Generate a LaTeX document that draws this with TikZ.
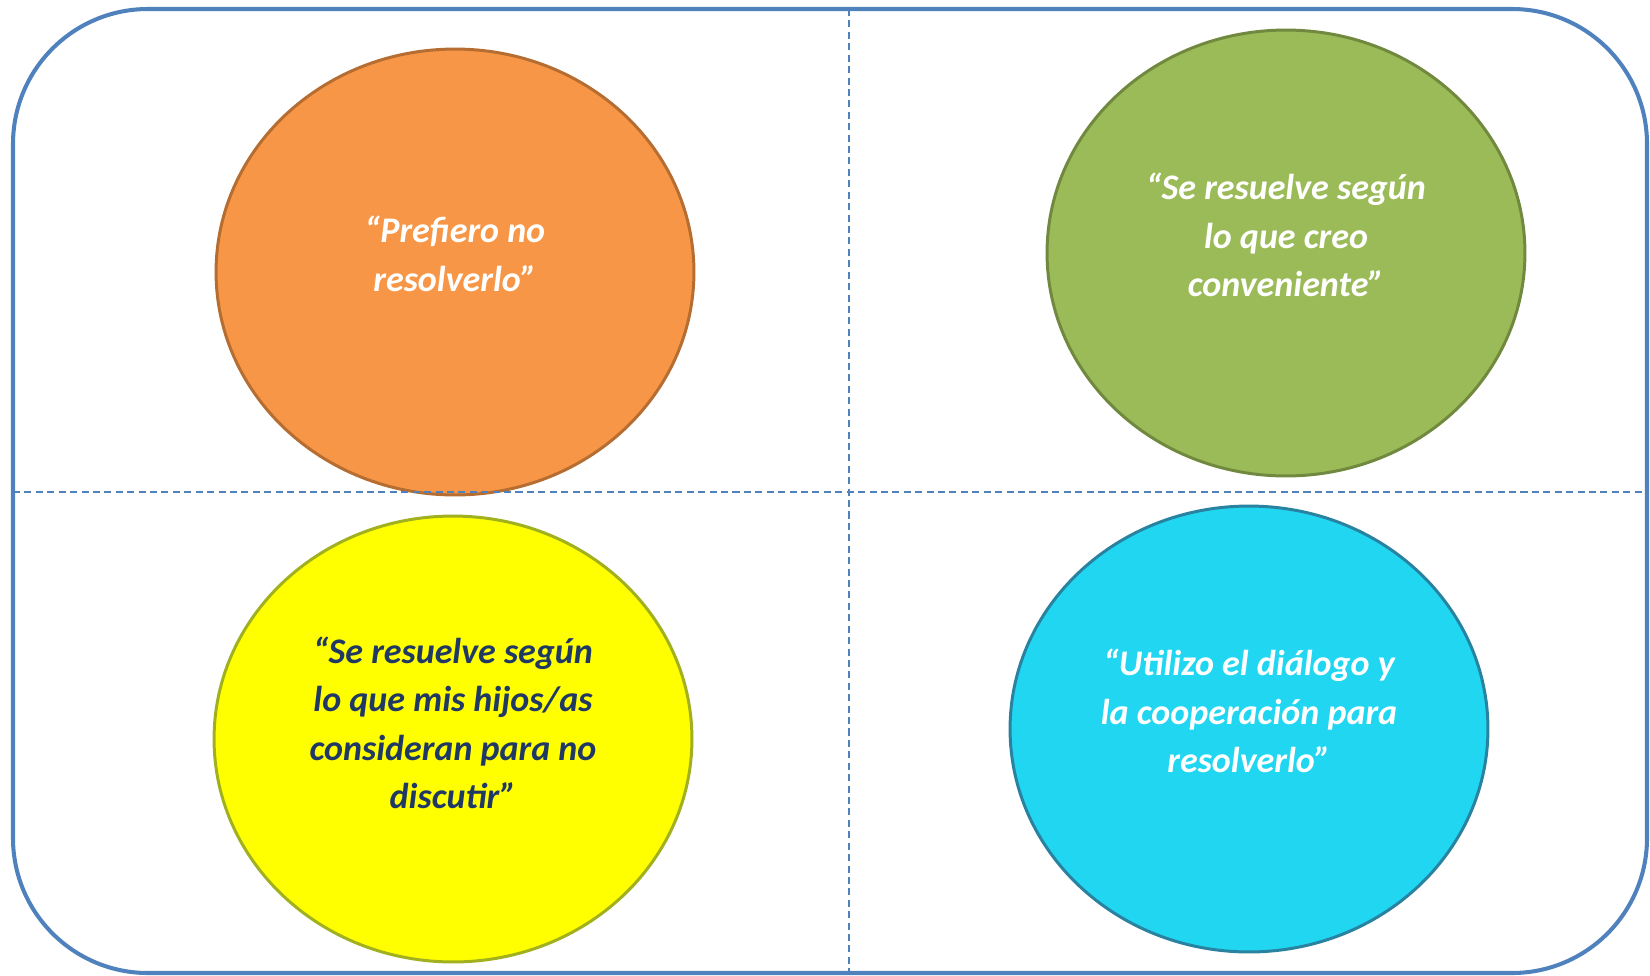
\documentclass[tikz,border=0pt]{standalone}
\usepackage{fontspec}
\setmainfont{Carlito}
\usepackage{xcolor}
\definecolor{frame-blue}{RGB}{79,129,189}
\definecolor{orange-fill}{RGB}{247,150,70}
\definecolor{orange-edge}{RGB}{182,109,49}
\definecolor{green-fill}{RGB}{155,187,89}
\definecolor{green-edge}{RGB}{113,137,63}
\definecolor{yellow-fill}{RGB}{255,255,0}
\definecolor{yellow-edge}{RGB}{160,176,30}
\definecolor{cyan-fill}{RGB}{32,214,240}
\definecolor{cyan-edge}{RGB}{40,130,160}
\definecolor{navy-text}{RGB}{31,56,100}
\usepackage{tikz}
\usetikzlibrary{shapes.geometric}

\begin{document}
\begin{tikzpicture}[x=0.02cm,y=-0.02cm,
	bubble/.style={ellipse,line width=1.7pt,minimum width=9.56cm,minimum height=8.92cm},
	quote/.style={align=center,font=\fontsize{20.5}{27.5}\selectfont\bfseries\itshape}]
	\useasboundingbox (0,0) rectangle (1650,975);
	\draw[frame-blue,line width=2.3pt,rounded corners=2.7cm] (13,9) rectangle (1647,973);
	
	\node[bubble,draw=orange-edge,fill=orange-fill] (prefiero) at (455,272) {};
	\node[bubble,draw=green-edge,fill=green-fill] (creo) at (1286,253) {};
	\node[bubble,draw=yellow-edge,fill=yellow-fill] (hijos) at (453,739) {};
	\node[bubble,draw=cyan-edge,fill=cyan-fill] (dialogo) at (1249,729) {};
	
	\draw[frame-blue,line width=.6pt,dash pattern=on 4pt off 2.5pt] (849,9)--(849,973) (13,492)--(1647,492);
	
	\node[quote,white] (prefiero-txt) at ([shift={(0,-18)}]prefiero.center) {“Prefiero no\\resolverlo”};
	\node[quote,white] (creo-txt) at ([shift={(0,-18)}]creo.center) {“Se resuelve según\\lo que creo\\conveniente”};
	\node[quote,navy-text] (hijos-txt) at ([shift={(0,-16)}]hijos.center) {“Se resuelve según\\lo que mis hijos/as\\consideran para no\\discutir”};
	\node[quote,white] (dialogo-txt) at ([shift={(0,-18)}]dialogo.center) {“Utilizo el diálogo y\\la cooperación para\\resolverlo”};
\end{tikzpicture}
\end{document}
